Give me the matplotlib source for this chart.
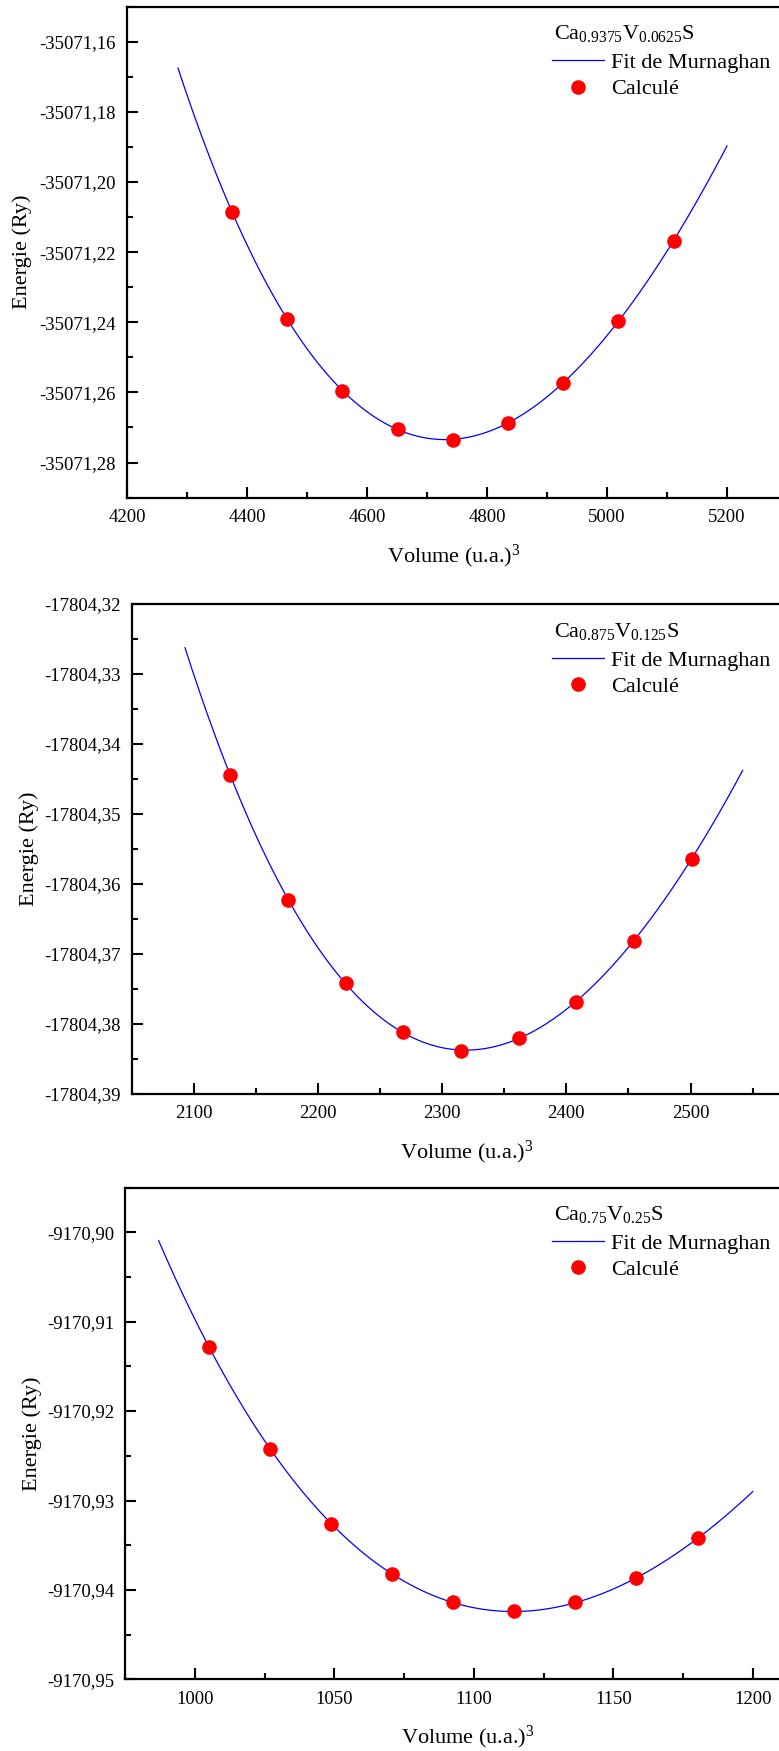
import numpy as np
import matplotlib
matplotlib.use('Agg')
import matplotlib.pyplot as plt
from matplotlib.ticker import MultipleLocator, AutoMinorLocator, FuncFormatter
from matplotlib.lines import Line2D

plt.rcParams['font.family'] = ['Liberation Serif', 'DejaVu Serif']
plt.rcParams['mathtext.fontset'] = 'custom'
plt.rcParams['mathtext.rm'] = 'Liberation Serif'
plt.rcParams['mathtext.it'] = 'Liberation Serif:italic'

# data
vol1 = [4375, 4467, 4559, 4651, 4743, 4835, 4927, 5019, 5111]
ene1 = [-35071.2085, -35071.2391, -35071.2595, -35071.2705, -35071.2735,
        -35071.2686, -35071.2573, -35071.2397, -35071.2167]
vol2 = [2129.6, 2176.0, 2222.4, 2268.8, 2315.2, 2361.6, 2408.0, 2454.4, 2500.8]
ene2 = [-17804.3445, -17804.3623, -17804.3742, -17804.3812, -17804.3838,
        -17804.3820, -17804.3768, -17804.3681, -17804.3564]
vol3 = [1005.0, 1026.9, 1048.8, 1070.7, 1092.6, 1114.5, 1136.4, 1158.3, 1180.2]
ene3 = [-9170.9128, -9170.9242, -9170.9326, -9170.9382, -9170.9414,
        -9170.9424, -9170.9414, -9170.9387, -9170.9342]

fit_range1 = (4285, 5200)
fit_range2 = (2093, 2542)
fit_range3 = (987, 1200)

labels = [r'Ca$_{\mathrm{0.9375}}$V$_{\mathrm{0.0625}}$S',
          r'Ca$_{\mathrm{0.875}}$V$_{\mathrm{0.125}}$S',
          r'Ca$_{\mathrm{0.75}}$V$_{\mathrm{0.25}}$S']

W, H = 779, 1751
fig = plt.figure(figsize=(W / 100, H / 100), dpi=100)

# panel boxes in pixels: left, right, top, bottom
boxes = [(127, 781, 6.7, 497.6), (131.6, 802.3, 604, 1094), (125.2, 810, 1187.5, 1679.4)]
xlims = [(4200, 5290), (2050, 2590), (975, 1220.5)]
ylims = [(-35071.29, -35071.15), (-17804.39, -17804.32), (-9170.95, -9170.895)]
xmaj = [200, 100, 50]
ymaj = [0.02, 0.01, 0.01]
ylab_x = [22, 29, 32]
panels = [(vol1, ene1, fit_range1), (vol2, ene2, fit_range2), (vol3, ene3, fit_range3)]

fmt = FuncFormatter(lambda v, p: ('%.2f' % v).replace('.', ','))

for i, (vol, ene, fr) in enumerate(panels):
    l, r, t, b = boxes[i]
    ax = fig.add_axes([l / W, 1 - b / H, (r - l) / W, (b - t) / H])
    v = np.array(vol)
    e = np.array(ene)
    # Birch-Murnaghan fit (cubic in V^-2/3)
    e0 = e.mean()
    c = np.polyfit(v ** (-2 / 3), e - e0, 3)
    vv = np.linspace(fr[0], fr[1], 300)
    ax.plot(vv, np.polyval(c, vv ** (-2 / 3)) + e0, color='#0000FF', lw=0.9)
    ax.plot(v, e, 'o', color='#FF0000', ms=9.5, mec='#FF0000')

    ax.set_xlim(xlims[i])
    ax.set_ylim(ylims[i])
    ax.xaxis.set_major_locator(MultipleLocator(xmaj[i]))
    ax.yaxis.set_major_locator(MultipleLocator(ymaj[i]))
    ax.xaxis.set_minor_locator(AutoMinorLocator(2))
    ax.yaxis.set_minor_locator(AutoMinorLocator(2))
    ax.yaxis.set_major_formatter(fmt)
    ax.tick_params(which='both', direction='in', top=False, right=False,
                   labelsize=13.5, width=1.5)
    ax.tick_params(which='major', length=8)
    ax.tick_params(which='minor', length=4)
    ax.tick_params(axis='y', pad=8)
    ax.tick_params(axis='x', pad=8)
    for s in ax.spines.values():
        s.set_linewidth(1.6)
    ax.set_xlabel('Volume (u.a.)$^{3}$', fontsize=16, labelpad=12)
    fig.text(ylab_x[i] / W, 1 - (t + b) / 2 / H, 'Energie (Ry)', fontsize=16,
             rotation=90, ha='center', va='center')

    # legend
    fig.text(554 / W, 1 - (t + 27) / H, labels[i], fontsize=16, ha='left', va='center')
    handles = [Line2D([], [], color='#0000FF', lw=0.9),
               Line2D([], [], ls='', marker='o', color='#FF0000', ms=9.5)]
    fig.legend(handles, ['Fit de Murnaghan', 'Calculé'], loc='upper left',
               bbox_to_anchor=(552 / W, 1 - (t + 46) / H), frameon=False,
               fontsize=16, handlelength=2.35, handletextpad=0.3,
               borderpad=0, borderaxespad=0, labelspacing=0.25)

fig.savefig('out.png', dpi=100)
